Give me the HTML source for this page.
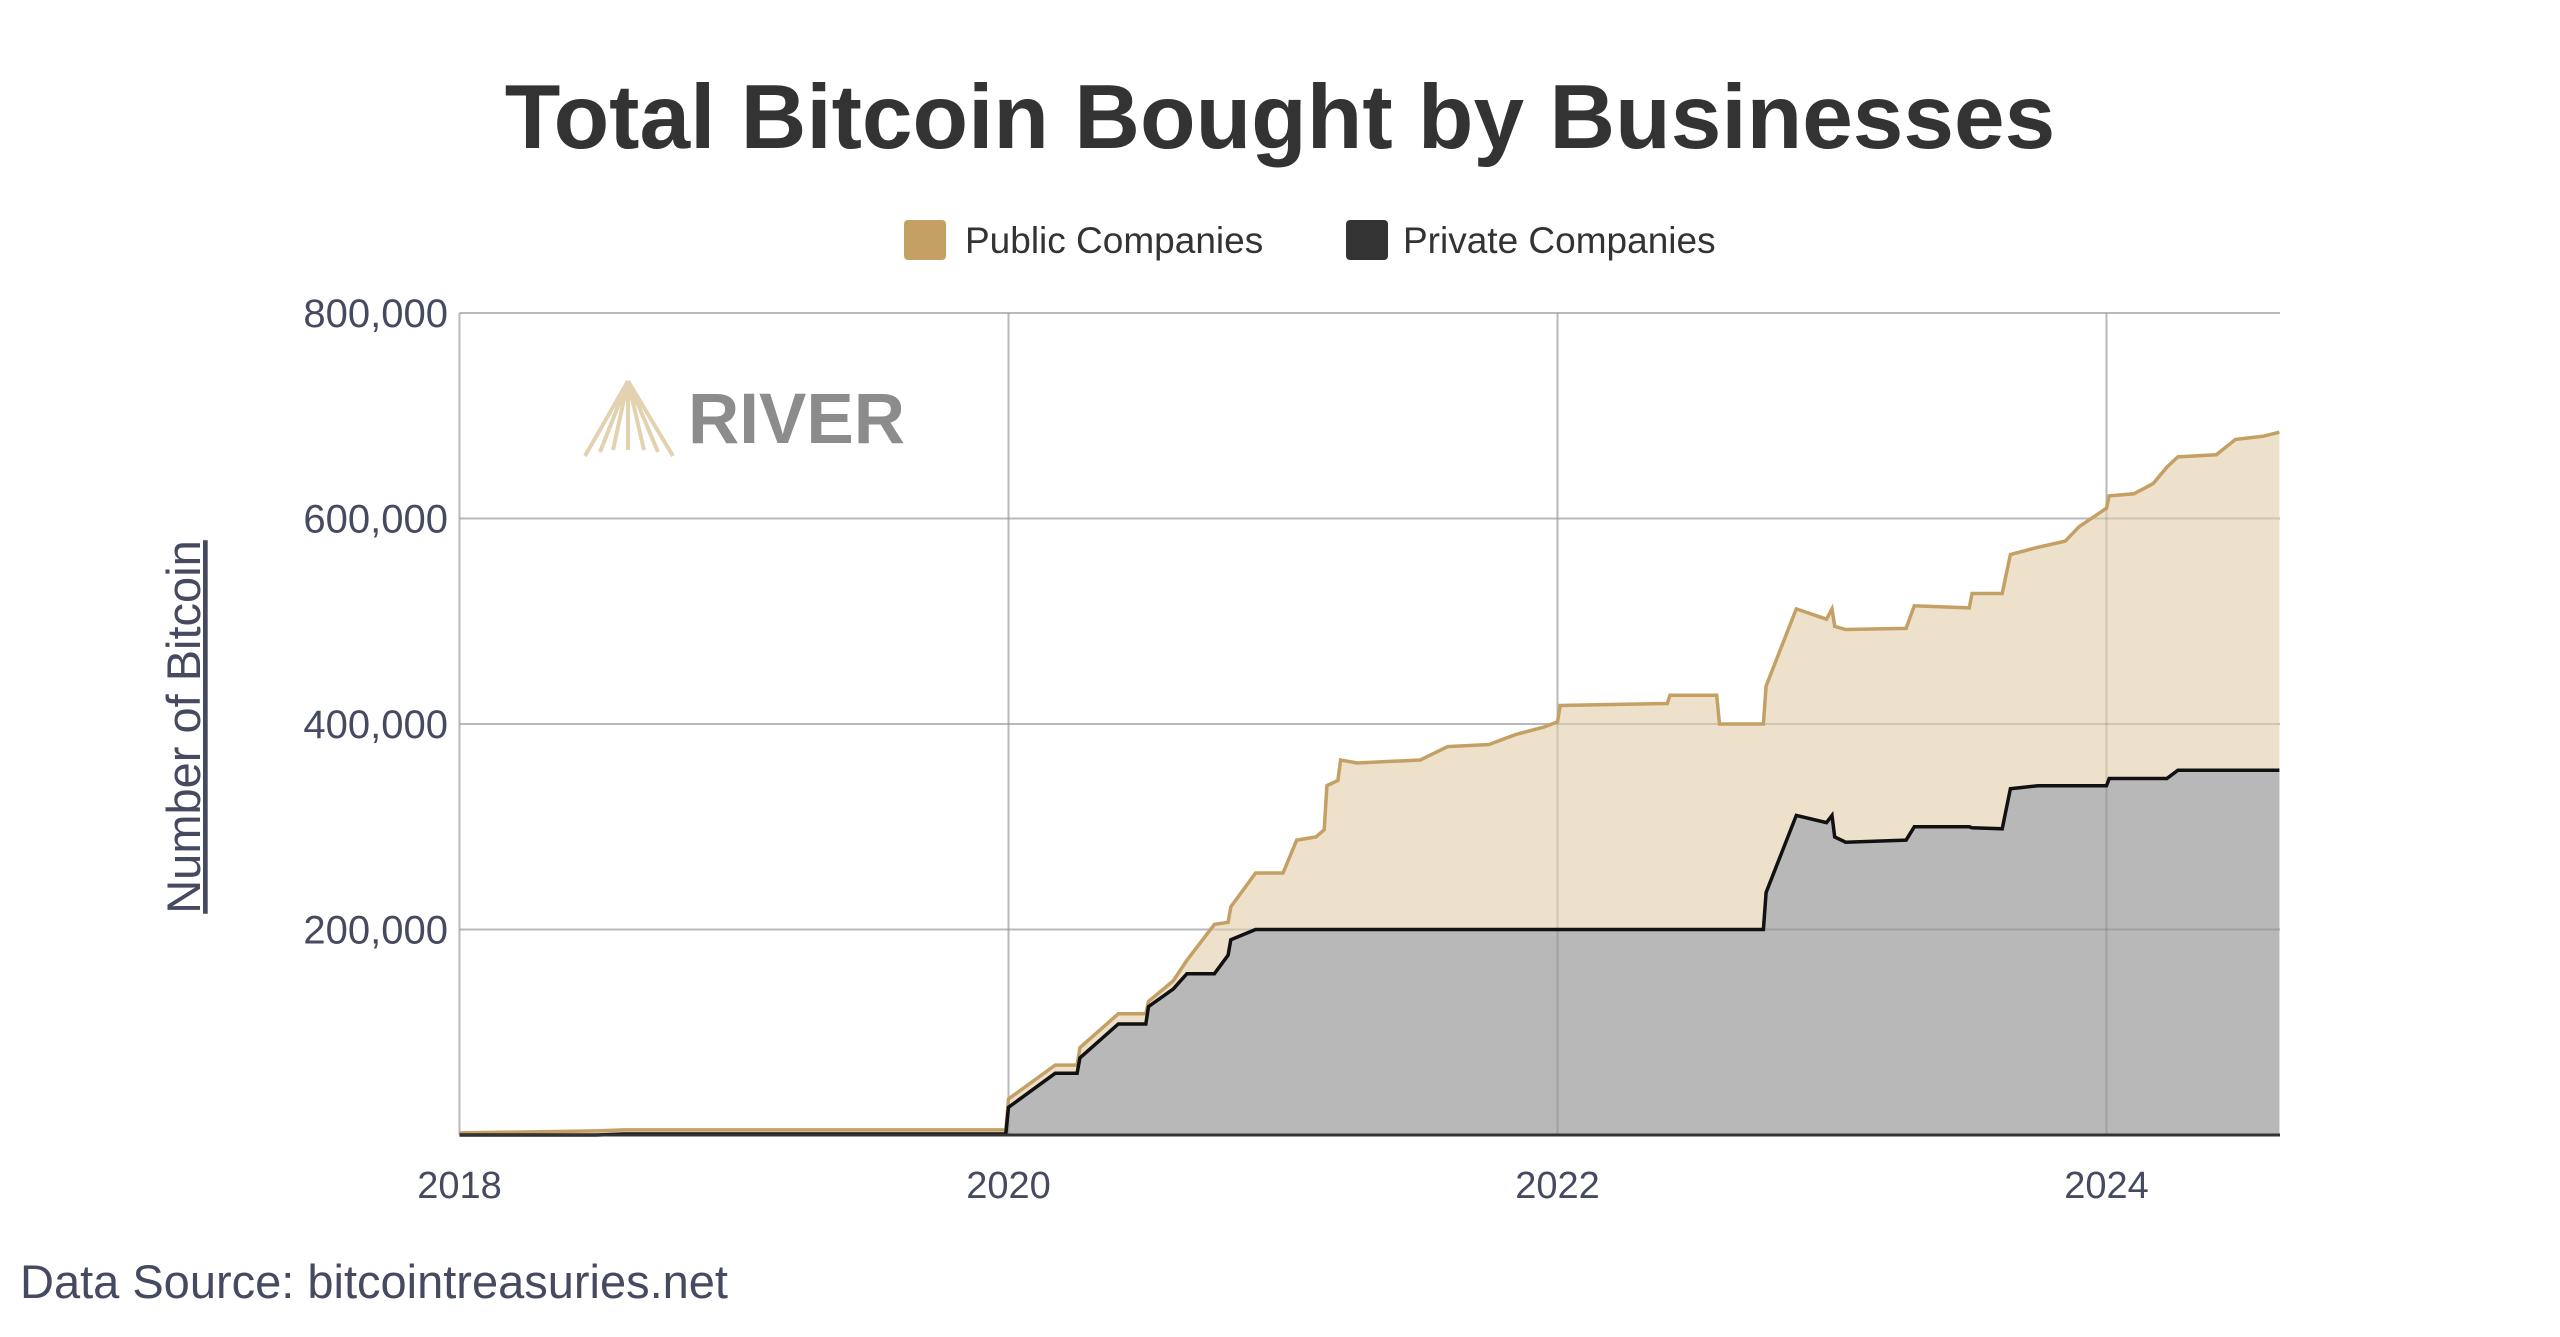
<!DOCTYPE html>
<html><head><meta charset="utf-8"><style>
body{margin:0;background:#fff;width:2560px;height:1332px;overflow:hidden;font-family:"Liberation Sans",sans-serif}
</style></head><body>
<svg width="2560" height="1332" viewBox="0 0 2560 1332">
<text x="1280" y="148" text-anchor="middle" font-size="91" font-weight="bold" fill="#333">Total Bitcoin Bought by Businesses</text>
<g>
<g><rect x="904" y="220" width="42" height="40" rx="4" fill="#c4a064"/><text x="965" y="253" font-size="37" fill="#333">Public Companies</text></g>
<g><rect x="1346" y="220" width="42" height="40" rx="4" fill="#333"/><text x="1403" y="253" font-size="37" fill="#333">Private Companies</text></g>
</g>
<g id="plot"></g>
<g>
<g stroke="#e2d2b0" stroke-width="4" fill="none">
<path d="M628 381 L585 456 M628 381 L673 456 M628 381 L600 452 M628 381 L658 452 M628 381 L613 450 M628 381 L644 450 M628 381 L628 450"/>
</g>
<text x="688" y="443" font-size="71" font-weight="bold" fill="#8c8c8c">RIVER</text>
</g>
<text transform="translate(200,727) rotate(-90)" text-anchor="middle" font-size="47" fill="#454a60" text-decoration="underline">Number of Bitcoin</text>
<text x="20" y="1298" font-size="47" fill="#454a60">Data Source: bitcointreasuries.net</text>
</svg>
<script>
const dates=[2018.0,2018.5,2018.6,2019.99,2020.0,2020.17,2020.25,2020.26,2020.4,2020.5,2020.51,2020.6,2020.65,2020.75,2020.8,2020.81,2020.9,2021.0,2021.05,2021.12,2021.15,2021.16,2021.2,2021.21,2021.27,2021.5,2021.6,2021.75,2021.85,2021.95,2022.0,2022.01,2022.4,2022.41,2022.58,2022.59,2022.75,2022.76,2022.87,2022.98,2023.0,2023.01,2023.05,2023.27,2023.3,2023.5,2023.51,2023.62,2023.65,2023.75,2023.85,2023.9,2024.0,2024.01,2024.1,2024.17,2024.22,2024.26,2024.4,2024.47,2024.57,2024.63];
const publicTotal=[2,4,5,5,35,68,68,85,118,118,130,150,170,205,207,222,255,255,287,290,297,340,345,365,362,365,378,380,390,397,402,418,420,428,428,400,400,437,512,502,512,495,492,493,515,513,527,527,565,572,578,592,610,622,624,634,650,660,662,677,680,684];
const privateTotal=[0,0,1,1,27,60,60,75,108,108,125,142,157,157,175,190,200,200,200,200,200,200,200,200,200,200,200,200,200,200,200,200,200,200,200,200,200,236,311,304,311,290,285,287,300,300,299,298,337,340,340,340,340,347,347,347,347,355,355,355,355,355];
const yTicks=[200000,400000,600000,800000];
const yTickLabels=["200,000","400,000","600,000","800,000"];
const xTicks=[2018,2020,2022,2024];
const X0=459.5,X1=2280,Y0=1135,Y1=313;
const xS=d=>X0+(d-2018)*274.5;
const yS=v=>Y0-(v/800000)*(Y0-Y1);
const NS="http://www.w3.org/2000/svg";
const plot=document.getElementById('plot');
function mk(t,a){const e=document.createElementNS(NS,t);for(const k in a)e.setAttribute(k,a[k]);plot.appendChild(e);return e;}
yTicks.forEach((v,i)=>{const l=mk('line',{x1:X0,x2:X1,y1:yS(v),y2:yS(v),stroke:'#d3d3d3','stroke-width':2});


const t=mk('text',{x:448,y:yS(v)+14,'text-anchor':'end','font-size':40,fill:'#454a60'});t.textContent=yTickLabels[i];

});
xTicks.forEach(d=>{const l=mk('line',{x1:xS(d),x2:xS(d),y1:Y1,y2:Y0,stroke:'#d3d3d3','stroke-width':2});


const t=mk('text',{x:xS(d),y:1198,'text-anchor':'middle','font-size':38,fill:'#454a60'});t.textContent=String(d);

});
function pts(arr){return dates.map((d,i)=>xS(d).toFixed(1)+','+yS(arr[i]*1000).toFixed(1));}
const pub=pts(publicTotal),pri=pts(privateTotal);
const base=xS(dates[dates.length-1]).toFixed(1)+','+Y0+' '+xS(dates[0]).toFixed(1)+','+Y0;
const a1=mk('polygon',{points:pub.join(' ')+' '+base,fill:'#ede1cc'});


const a2=mk('polygon',{points:pri.join(' ')+' '+base,fill:'#b8b8b8'});


yTicks.forEach(v=>{const l=mk('line',{x1:X0,x2:X1,y1:yS(v),y2:yS(v),stroke:'rgba(0,0,0,0.12)','stroke-width':2});

});
xTicks.forEach(d=>{const l=mk('line',{x1:xS(d),x2:xS(d),y1:Y1,y2:Y0,stroke:'rgba(0,0,0,0.12)','stroke-width':2});

});
const l1=mk('polyline',{points:pub.join(' '),fill:'none',stroke:'#c4a064','stroke-width':3.5});


const l2=mk('polyline',{points:pri.join(' '),fill:'none',stroke:'#111','stroke-width':3.5});


const ax=mk('line',{x1:X0,x2:X1,y1:Y0,y2:Y0,stroke:'#333','stroke-width':3});


</script>
</body></html>
